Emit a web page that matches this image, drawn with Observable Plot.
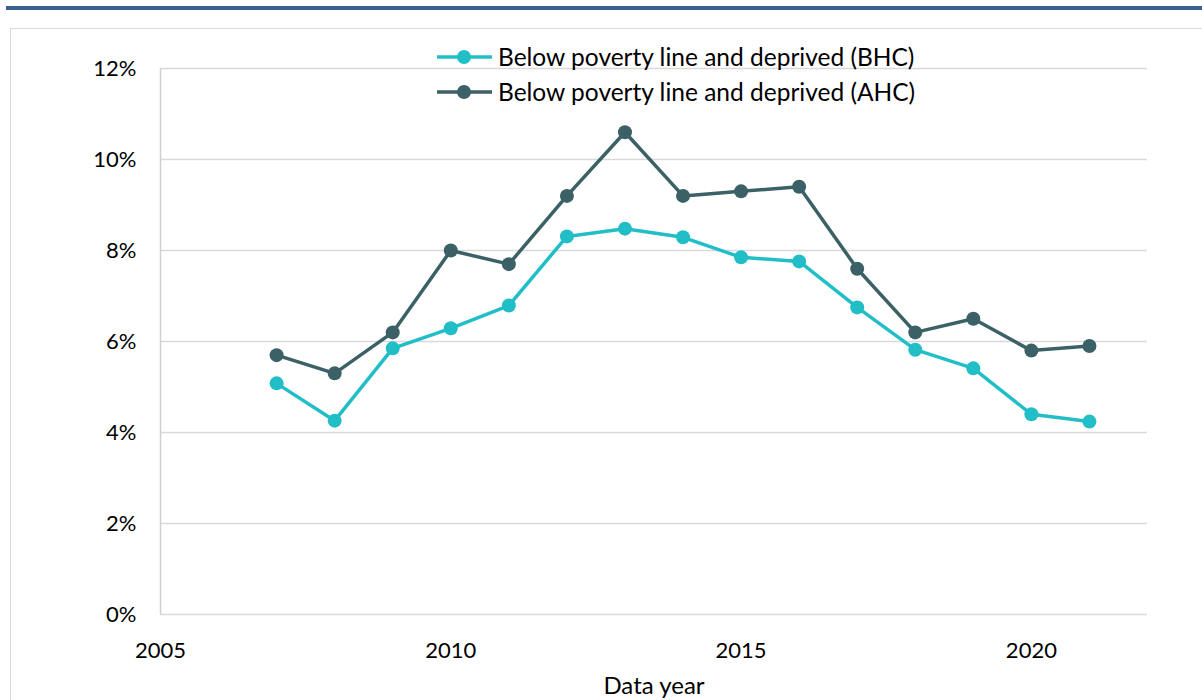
<!DOCTYPE html>
<html>
<head>
<meta charset="utf-8">
<script src="https://cdn.jsdelivr.net/npm/d3@7"></script>
<script src="https://cdn.jsdelivr.net/npm/@observablehq/plot@0.6"></script>
<style>
  html, body { margin: 0; padding: 0; background: #fff; }
  #wrap { position: relative; width: 1202px; height: 700px; overflow: hidden; font-family: Lato, "Open Sans", sans-serif; }
  #topbar { position: absolute; left: 6px; right: 0; top: 6px; height: 4px; background: #3a6190; }
  #frame { position: absolute; left: 10px; top: 28px; width: 1200px; height: 700px; border: 1px solid #d9d9d9; box-sizing: border-box; }
  #chart { position: absolute; left: 0; top: 0; }
  #legend { position: absolute; left: 436px; top: 39px; font-size: 24.5px; color: #000; }
  #legend .row { display: flex; align-items: center; height: 35px; }
  #legend svg { margin-right: 5px; }
</style>
</head>
<body>
<div id="wrap">
  <div id="topbar"></div>
  <div id="frame"></div>
  <div id="chart"></div>
  <div id="legend"></div>
</div>
<script>
// Share of people below the poverty line and materially deprived, by data year
const years = [2007, 2008, 2009, 2010, 2011, 2012, 2013, 2014, 2015, 2016, 2017, 2018, 2019, 2020, 2021];
const bhc = [0.0508, 0.0426, 0.0585, 0.0629, 0.0679, 0.0831, 0.0848, 0.0829, 0.0785, 0.0776, 0.0675, 0.0582, 0.0541, 0.0440, 0.0424];
const ahc = [0.057, 0.053, 0.062, 0.080, 0.077, 0.092, 0.106, 0.092, 0.093, 0.094, 0.076, 0.062, 0.065, 0.058, 0.059];

const seriesNames = ["Below poverty line and deprived (BHC)", "Below poverty line and deprived (AHC)"];
const seriesColors = ["#22bec8", "#3b6167"];
const yTicks = [0, 0.02, 0.04, 0.06, 0.08, 0.10, 0.12];
const xTicks = [2005, 2010, 2015, 2020];

const rows = [
  ...years.map((year, i) => ({year, value: bhc[i], series: seriesNames[0]})),
  ...years.map((year, i) => ({year, value: ahc[i], series: seriesNames[1]}))
];

const chart = Plot.plot({
  width: 1202,
  height: 700,
  marginLeft: 160,
  marginRight: 55,
  marginTop: 68,
  marginBottom: 86,
  style: {fontFamily: "Lato, 'Open Sans', sans-serif", fontSize: "22px", color: "#000", background: "transparent"},
  x: {domain: [2005, 2022]},
  y: {domain: [0, 0.12]},
  color: {domain: seriesNames, range: seriesColors},
  marks: [
    Plot.ruleY(yTicks, {stroke: "#d9d9d9", strokeWidth: 1.5}),
    Plot.ruleX([2005], {stroke: "#d0d0d0", strokeWidth: 1.5}),
    Plot.axisY(yTicks, {tickFormat: d3.format(".0%"), tickSize: 0, tickPadding: 24, label: null}),
    Plot.axisX(xTicks, {tickFormat: d => String(d), tickSize: 0, tickPadding: 28, label: null}),
    Plot.axisX({ticks: [], label: "Data year", labelAnchor: "center", labelArrow: false, labelOffset: 79, fontSize: "24px"}),
    Plot.line(rows, {x: "year", y: "value", z: "series", stroke: "series", strokeWidth: 3.5}),
    Plot.dot(rows, {x: "year", y: "value", fill: "series", r: 7})
  ]
});
document.getElementById("chart").appendChild(chart);

// Legend: line-and-marker swatch followed by the series name
const legend = document.getElementById("legend");
seriesNames.forEach((name, i) => {
  const row = document.createElement("div");
  row.className = "row";
  row.innerHTML = `<svg width="57" height="20"><line x1="1" x2="56" y1="10" y2="10" stroke="${seriesColors[i]}" stroke-width="3.5"/><circle cx="28" cy="10" r="7" fill="${seriesColors[i]}"/></svg><span>${name}</span>`;
  legend.appendChild(row);
});
</script>
</body>
</html>
